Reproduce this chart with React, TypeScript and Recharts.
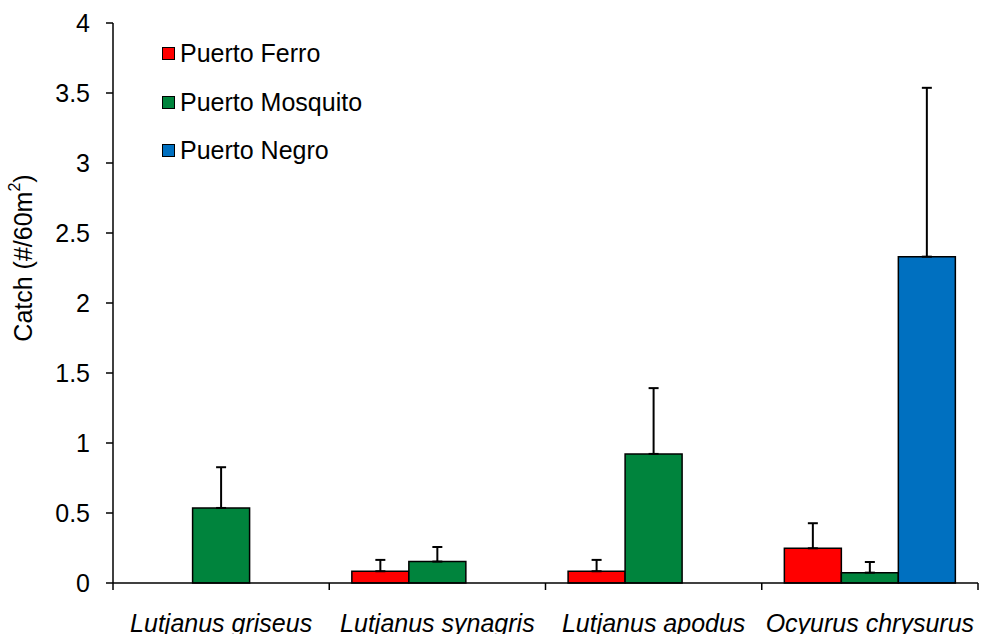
import React from "react";
import {
  Bar,
  BarChart,
  ErrorBar,
  Legend,
  XAxis,
  YAxis,
} from "recharts";

const species = [
  "Lutjanus griseus",
  "Lutjanus synagris",
  "Lutjanus apodus",
  "Ocyurus chrysurus",
];
const ferro = [0, 0.084, 0.084, 0.248];
const ferroErr = [0, 0.081, 0.081, 0.179];
const mosquito = [0.536, 0.153, 0.922, 0.074];
const mosquitoErr = [0.291, 0.104, 0.47, 0.076];
const negro = [0, 0, 0, 2.331];
const negroErr = [0, 0, 0, 1.206];

const yTicks = [0, 0.5, 1, 1.5, 2, 2.5, 3, 3.5, 4];
const boundaryTicks = [0, 1, 2, 3, 4];

const FONT = "'Liberation Sans', Arial, sans-serif";

const data = species.map((name, i) => ({
  name,
  pos: i + 0.5,
  ferro: ferro[i],
  ferroErr: [0, ferroErr[i]],
  mosquito: mosquito[i],
  mosquitoErr: [0, mosquitoErr[i]],
  negro: negro[i],
  negroErr: [0, negroErr[i]],
}));

const series = [
  { key: "ferro", err: "ferroErr", name: "Puerto Ferro", color: "#ff0000" },
  { key: "mosquito", err: "mosquitoErr", name: "Puerto Mosquito", color: "#00843d" },
  { key: "negro", err: "negroErr", name: "Puerto Negro", color: "#0070c0" },
];

function SpeciesTick(props: any) {
  const { x, y, payload } = props;
  return (
    <text
      x={x}
      y={y + 48}
      textAnchor="middle"
      fontSize={25}
      fontStyle="italic"
      fill="#000"
      fontFamily={FONT}
    >
      {payload.value}
    </text>
  );
}

// boundary axis: tick marks only, no labels
function NoLabel() {
  return <g />;
}

function YLabel() {
  return (
    <text
      x={23}
      y={258}
      transform="rotate(-90, 23, 258)"
      textAnchor="middle"
      dominantBaseline="central"
      fontSize={25}
      fill="#000"
      fontFamily={FONT}
    >
      Catch (#/60m
      <tspan dy={-9} fontSize={16}>
        2
      </tspan>
      <tspan dy={9}>)</tspan>
    </text>
  );
}

function LegendBox() {
  return (
    <div style={{ fontFamily: FONT, fontSize: 25, color: "#000" }}>
      {series.map((s) => (
        <div
          key={s.key}
          style={{ display: "flex", alignItems: "center", height: 48.7 }}
        >
          <span
            style={{
              display: "inline-block",
              width: 11,
              height: 11,
              background: s.color,
              border: "1.5px solid #000",
              marginRight: 5,
            }}
          />
          <span>{s.name}</span>
        </div>
      ))}
    </div>
  );
}

export default function App() {
  return (
    <div style={{ position: "absolute", left: 0, top: 0, width: 988, height: 634, background: "#fff" }}>
      <BarChart
        width={988}
        height={634}
        data={data}
        margin={{ top: 23, right: 10, bottom: 0, left: 0 }}
        barCategoryGap="10.45%"
        barGap={0}
      >
        <XAxis
          xAxisId="a"
          type="number"
          dataKey="pos"
          domain={[0, 4]}
          ticks={boundaryTicks}
          interval={0}
          height={1}
          tick={<NoLabel />}
          tickSize={7}
          axisLine={{ stroke: "#000", strokeWidth: 1.5 }}
          tickLine={{ stroke: "#000", strokeWidth: 1.5 }}
        />
        <XAxis
          xAxisId="b"
          dataKey="name"
          height={50}
          axisLine={false}
          tickLine={false}
          tickSize={0}
          tickMargin={0}
          interval={0}
          tick={<SpeciesTick />}
        />
        <YAxis
          width={113}
          domain={[0, 4]}
          ticks={yTicks}
          interval={0}
          tickSize={7}
          tickMargin={16}
          axisLine={{ stroke: "#000", strokeWidth: 1.5 }}
          tickLine={{ stroke: "#000", strokeWidth: 1.5 }}
          tick={{ fill: "#000", fontSize: 25, fontFamily: FONT }}
          label={<YLabel />}
        />
        <Legend
          layout="vertical"
          align="center"
          verticalAlign="middle"
          wrapperStyle={{ left: 162, top: 29, width: 260 }}
          content={<LegendBox />}
        />
        {series.map((s) => (
          <Bar
            key={s.key}
            xAxisId="b"
            dataKey={s.key}
            name={s.name}
            fill={s.color}
            stroke="#000"
            strokeWidth={1.5}
            isAnimationActive={false}
          >
            <ErrorBar
              dataKey={s.err}
              direction="y"
              width={5}
              stroke="#000"
              strokeWidth={2}
              isAnimationActive={false}
            />
          </Bar>
        ))}
      </BarChart>
    </div>
  );
}
